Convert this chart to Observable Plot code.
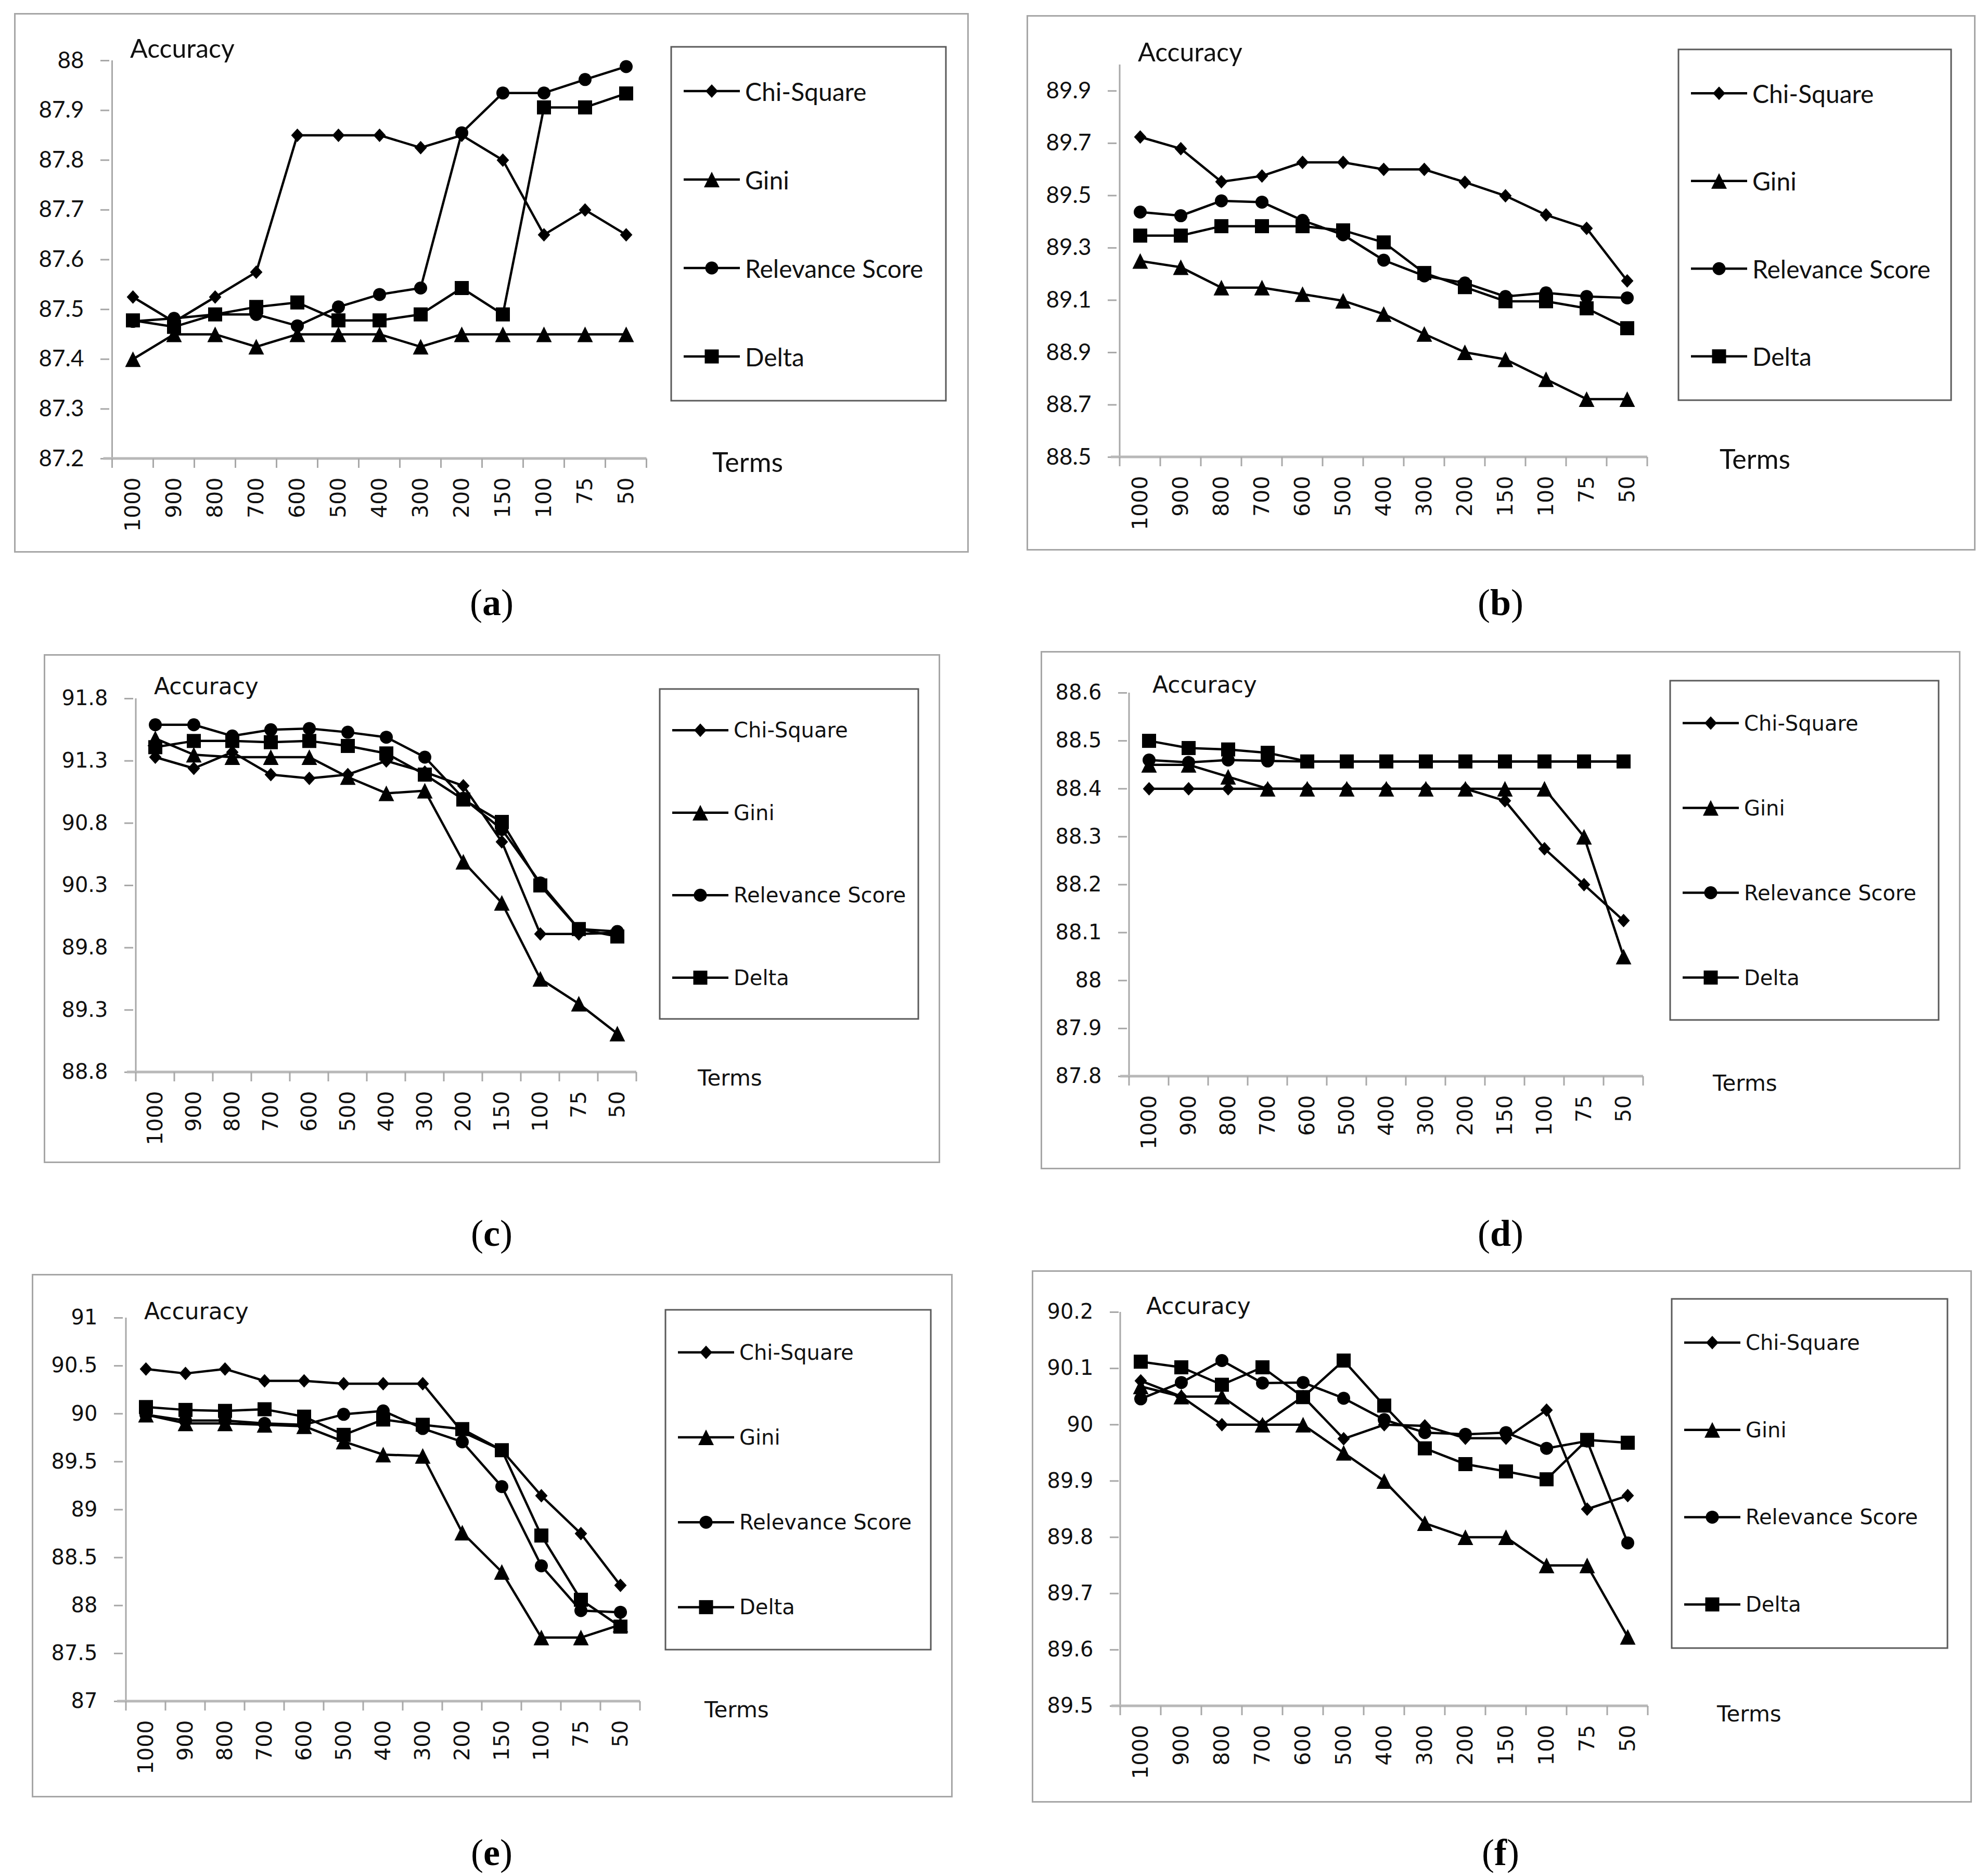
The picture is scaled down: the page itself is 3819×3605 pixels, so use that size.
<!DOCTYPE html>
<html>
<head>
<meta charset="utf-8">
<script src="https://cdn.jsdelivr.net/npm/d3@7"></script>
<script src="https://cdn.jsdelivr.net/npm/@observablehq/plot@0.6"></script>
<style>
  html, body { margin: 0; padding: 0; background: #fff; }
  #root { position: relative; width: 3819px; height: 3605px; background: #fff; overflow: hidden; }
  .cap { position: absolute; font-family: "Liberation Serif", "DejaVu Serif", serif; font-size: 72px; color: #000; transform: translate(-50%, -50%); white-space: nowrap; }
  .cap b { font-weight: bold; }
</style>
</head>
<body>
<div id="root"></div>
<script>
// ---------- DATA ----------
const terms = ["1000", "900", "800", "700", "600", "500", "400", "300", "200", "150", "100", "75", "50"];
const seriesNames = ["Chi-Square", "Gini", "Relevance Score", "Delta"];
const panelLetters = ["a", "b", "c", "d", "e", "f"];

// (a)
const chiA   = [87.525, 87.475, 87.525, 87.575, 87.85, 87.85, 87.85, 87.825, 87.85, 87.8, 87.65, 87.7, 87.65];
const giniA  = [87.4, 87.45, 87.45, 87.425, 87.45, 87.45, 87.45, 87.425, 87.45, 87.45, 87.45, 87.45, 87.45];
const relA   = [87.476, 87.482, 87.49, 87.49, 87.467, 87.505, 87.53, 87.543, 87.855, 87.935, 87.935, 87.962, 87.988];
const deltaA = [87.478, 87.465, 87.49, 87.505, 87.514, 87.478, 87.478, 87.49, 87.543, 87.49, 87.906, 87.906, 87.934];
const yTicksA = [87.2, 87.3, 87.4, 87.5, 87.6, 87.7, 87.8, 87.9, 88];

// (b)
const chiB   = [89.724, 89.679, 89.553, 89.575, 89.627, 89.627, 89.6, 89.6, 89.551, 89.499, 89.426, 89.375, 89.174];
const giniB  = [89.25, 89.226, 89.148, 89.148, 89.123, 89.098, 89.047, 88.971, 88.901, 88.874, 88.798, 88.722, 88.722];
const relB   = [89.437, 89.423, 89.48, 89.475, 89.405, 89.35, 89.253, 89.193, 89.166, 89.114, 89.128, 89.114, 89.109];
const deltaB = [89.347, 89.347, 89.383, 89.383, 89.383, 89.367, 89.321, 89.204, 89.15, 89.096, 89.096, 89.069, 88.993];
const yTicksB = [88.5, 88.7, 88.9, 89.1, 89.3, 89.5, 89.7, 89.9];

// (c)
const chiC   = [91.33, 91.24, 91.37, 91.19, 91.16, 91.19, 91.30, 91.21, 91.10, 90.65, 89.91, 89.91, 89.92];
const giniC  = [91.48, 91.35, 91.33, 91.33, 91.33, 91.17, 91.04, 91.06, 90.49, 90.16, 89.55, 89.35, 89.11];
const relC   = [91.59, 91.59, 91.50, 91.55, 91.56, 91.53, 91.49, 91.33, 91.0, 90.75, 90.32, 89.95, 89.93];
const deltaC = [91.41, 91.46, 91.46, 91.45, 91.46, 91.42, 91.36, 91.19, 90.99, 90.81, 90.30, 89.95, 89.89];
const yTicksC = [88.8, 89.3, 89.8, 90.3, 90.8, 91.3, 91.8];

// (d)
const chiD   = [88.4, 88.4, 88.4, 88.4, 88.4, 88.4, 88.4, 88.4, 88.4, 88.375, 88.275, 88.2, 88.125];
const giniD  = [88.45, 88.45, 88.425, 88.4, 88.4, 88.4, 88.4, 88.4, 88.4, 88.4, 88.4, 88.3, 88.05];
const relD   = [88.46, 88.455, 88.46, 88.458, 88.457, 88.457, 88.457, 88.457, 88.457, 88.457, 88.457, 88.457, 88.457];
const deltaD = [88.5, 88.485, 88.482, 88.475, 88.457, 88.457, 88.457, 88.457, 88.457, 88.457, 88.457, 88.457, 88.457];
const yTicksD = [87.8, 87.9, 88, 88.1, 88.2, 88.3, 88.4, 88.5, 88.6];

// (e)
const chiE   = [90.467, 90.42, 90.467, 90.343, 90.343, 90.314, 90.314, 90.314, 89.81, 89.62, 89.145, 88.75, 88.21];
const giniE  = [89.99, 89.9, 89.9, 89.885, 89.87, 89.71, 89.574, 89.56, 88.76, 88.35, 87.666, 87.666, 87.8];
const relE   = [89.99, 89.93, 89.93, 89.9, 89.885, 89.994, 90.03, 89.846, 89.707, 89.24, 88.414, 87.947, 87.93];
const deltaE = [90.07, 90.04, 90.03, 90.047, 89.97, 89.78, 89.94, 89.885, 89.84, 89.62, 88.73, 88.06, 87.78];
const yTicksE = [87, 87.5, 88, 88.5, 89, 89.5, 90, 90.5, 91];

// (f)
const chiF   = [90.078, 90.05, 90.0, 90.0, 90.05, 89.975, 90.0, 89.998, 89.976, 89.976, 90.026, 89.85, 89.874];
const giniF  = [90.068, 90.05, 90.05, 90.0, 90.0, 89.95, 89.9, 89.825, 89.8, 89.8, 89.75, 89.75, 89.623];
const relF   = [90.046, 90.075, 90.114, 90.074, 90.075, 90.047, 90.009, 89.986, 89.983, 89.986, 89.958, 89.971, 89.79];
const deltaF = [90.112, 90.102, 90.071, 90.102, 90.049, 90.114, 90.034, 89.958, 89.93, 89.917, 89.903, 89.973, 89.968];
const yTicksF = [89.5, 89.6, 89.7, 89.8, 89.9, 90, 90.1, 90.2];

// ---------- LAYOUT / STYLE ----------
const calibriLike = "Lato, 'Open Sans', sans-serif";
const verdanaLike = "'DejaVu Sans', Verdana, sans-serif";
const panels = [
  {letter: "a", series: [chiA, giniA, relA, deltaA], yDomain: [87.2, 88], yTicks: yTicksA,
   box: [27, 25, 1862, 1062], plot: [210, 1248, 116, 881], legend: [1290, 90, 1818, 770],
   acc: [250, 92], termsPos: [1369, 887], cap: [945, 1158],
   font: calibriLike, tickSize: 44, accSize: 50, legSize: 48, termsSize: 52},
  {letter: "b", series: [chiB, giniB, relB, deltaB], yDomain: [88.5, 90.0], yTicks: yTicksB,
   box: [1973, 29, 3797, 1058], plot: [2146, 3172, 124, 878], legend: [3226, 95, 3750, 769],
   acc: [2187, 99], termsPos: [3305, 881], cap: [2884, 1158],
   font: calibriLike, tickSize: 44, accSize: 50, legSize: 48, termsSize: 52},
  {letter: "c", series: [chiC, giniC, relC, deltaC], yDomain: [88.8, 91.8], yTicks: yTicksC,
   box: [84, 1257, 1807, 2235], plot: [256, 1228, 1342, 2060], legend: [1268, 1324, 1765, 1958],
   acc: [296, 1318], termsPos: [1341, 2071], cap: [945, 2370],
   font: verdanaLike, tickSize: 40, accSize: 44, legSize: 40, termsSize: 42},
  {letter: "d", series: [chiD, giniD, relD, deltaD], yDomain: [87.8, 88.6], yTicks: yTicksD,
   box: [2000, 1251, 3768, 2247], plot: [2166, 3161, 1331, 2068], legend: [3210, 1308, 3726, 1960],
   acc: [2215, 1315], termsPos: [3292, 2081], cap: [2884, 2370],
   font: verdanaLike, tickSize: 40, accSize: 44, legSize: 40, termsSize: 42},
  {letter: "e", series: [chiE, giniE, relE, deltaE], yDomain: [87, 91], yTicks: yTicksE,
   box: [61, 2448, 1831, 3454], plot: [236, 1236, 2532, 3269], legend: [1279, 2517, 1789, 3170],
   acc: [277, 2519], termsPos: [1354, 3285], cap: [945, 3560],
   font: verdanaLike, tickSize: 40, accSize: 44, legSize: 40, termsSize: 42},
  {letter: "f", series: [chiF, giniF, relF, deltaF], yDomain: [89.5, 90.2], yTicks: yTicksF,
   box: [1983, 2441, 3790, 3464], plot: [2150, 3169, 2521, 3278], legend: [3213, 2496, 3743, 3167],
   acc: [2203, 2509], termsPos: [3300, 3293], cap: [2884, 3560],
   font: verdanaLike, tickSize: 40, accSize: 44, legSize: 40, termsSize: 42}
];

// Excel-like marker shapes (size = PI * r^2, as Plot passes it)
const rOf = size => Math.sqrt(size / Math.PI);
const excelDiamond = {draw(c, size) { const r = rOf(size), w = 0.92 * r; c.moveTo(0, -r); c.lineTo(w, 0); c.lineTo(0, r); c.lineTo(-w, 0); c.closePath(); }};
const excelTriangle = {draw(c, size) { const r = rOf(size); c.moveTo(0, -r); c.lineTo(r, r); c.lineTo(-r, r); c.closePath(); }};
const excelSquare = {draw(c, size) { const r = rOf(size); c.rect(-r, -r, 2 * r, 2 * r); }};
const symbols = [excelDiamond, excelTriangle, d3.symbolCircle, excelSquare];
const radii = [13, 15, 12.5, 13.5];
const axisGray = "#a8a8a8";
const fmt = d => String(+d.toFixed(1));

const root = document.getElementById("root");

for (const p of panels) {
  const [bx0, by0, bx1, by1] = p.box;
  const W = bx1 - bx0, H = by1 - by0;
  const rows = [];
  seriesNames.forEach((s, i) => p.series[i].forEach((v, j) => rows.push({series: s, term: terms[j], value: v})));

  const dotMarks = seriesNames.map((s, i) =>
    Plot.dot(rows.filter(d => d.series === s), {
      x: "term", y: "value", symbol: () => s, r: radii[i], fill: "#000", stroke: "none"
    })
  );

  const chart = Plot.plot({
    width: W, height: H,
    marginLeft: p.plot[0] - bx0, marginRight: bx1 - p.plot[1],
    marginTop: p.plot[2] - by0, marginBottom: by1 - p.plot[3],
    style: {fontFamily: p.font, fontSize: p.tickSize + "px", color: "#111", background: "transparent", overflow: "visible"},
    x: {type: "point", domain: terms, padding: 0.5, align: 0.5, label: null},
    y: {domain: p.yDomain, label: null},
    symbol: {domain: seriesNames, range: symbols},
    marks: [
      Plot.axisY({ticks: p.yTicks, tickFormat: fmt, tickSize: 17, tickPadding: 32, stroke: axisGray, strokeWidth: 3,
                  fontSize: p.tickSize, fontFamily: p.font, label: null}),
      Plot.axisX({tickSize: 0, tickRotate: -90, tickPadding: 36, fontSize: 41, fontFamily: verdanaLike, label: null}),
      Plot.line(rows, {x: "term", y: "value", z: "series", stroke: "#000", strokeWidth: 4.5, strokeLinejoin: "round"}),
      ...dotMarks
    ]
  });

  chart.style.position = "absolute";
  chart.style.left = bx0 + "px";
  chart.style.top = by0 + "px";
  root.appendChild(chart);

  const svg = d3.select(chart);
  const sx = chart.scale("x"), sy = chart.scale("y");
  const xs = terms.map(t => sx.apply(t));
  const step = xs[1] - xs[0];
  const yBottom = sy.apply(p.yDomain[0]), yTop = sy.apply(p.yDomain[1]);
  const xLeft = xs[0] - step / 2, xRight = xs[xs.length - 1] + step / 2;

  // outer panel frame
  svg.insert("rect", ":first-child")
    .attr("x", 1.5).attr("y", 1.5).attr("width", W - 3).attr("height", H - 3)
    .attr("fill", "none").attr("stroke", "#a6a6a6").attr("stroke-width", 3);

  const axes = svg.append("g");
  axes.append("line").attr("x1", xLeft).attr("x2", xLeft).attr("y1", yTop).attr("y2", yBottom)
    .attr("stroke", axisGray).attr("stroke-width", 3);
  axes.append("line").attr("x1", xLeft - 17).attr("x2", xRight).attr("y1", yBottom).attr("y2", yBottom)
    .attr("stroke", "#b8b8b8").attr("stroke-width", 5);
  [...xs.map(x => x - step / 2), xRight].forEach(x => {
    axes.append("line").attr("x1", x).attr("x2", x).attr("y1", yBottom).attr("y2", yBottom + 18)
      .attr("stroke", axisGray).attr("stroke-width", 3);
  });
  svg.selectAll("g[aria-label='line'], g[aria-label='dot']").raise();

  const addText = (x, y, size, txt, g = svg) => g.append("text")
    .attr("x", x).attr("y", y).attr("text-anchor", "start").attr("dominant-baseline", "central")
    .attr("font-family", p.font).attr("font-size", size).attr("fill", "#111").text(txt);

  addText(p.acc[0] - bx0, p.acc[1] - by0, p.accSize, "Accuracy");
  addText(p.termsPos[0] - bx0, p.termsPos[1] - by0, p.termsSize, "Terms");

  // legend
  const lx0 = p.legend[0] - bx0, ly0 = p.legend[1] - by0, lx1 = p.legend[2] - bx0, ly1 = p.legend[3] - by0;
  const lg = svg.append("g");
  lg.append("rect").attr("x", lx0).attr("y", ly0).attr("width", lx1 - lx0).attr("height", ly1 - ly0)
    .attr("fill", "#fff").attr("stroke", "#5a5a5a").attr("stroke-width", 3);
  const lh = (ly1 - ly0) / 4;
  seriesNames.forEach((s, i) => {
    const cy = ly0 + (i + 0.5) * lh;
    lg.append("line").attr("x1", lx0 + 24).attr("x2", lx0 + 132).attr("y1", cy).attr("y2", cy)
      .attr("stroke", "#000").attr("stroke-width", 4.5);
    lg.append("path").attr("transform", `translate(${lx0 + 78},${cy})`)
      .attr("d", d3.symbol().type(symbols[i]).size(Math.PI * radii[i] * radii[i])()).attr("fill", "#000");
    addText(lx0 + 142, cy, p.legSize, s, lg);
  });

  const cap = document.createElement("div");
  cap.className = "cap";
  cap.style.left = p.cap[0] + "px";
  cap.style.top = p.cap[1] + "px";
  cap.innerHTML = `(<b>${p.letter}</b>)`;
  root.appendChild(cap);
}
</script>
</body>
</html>
